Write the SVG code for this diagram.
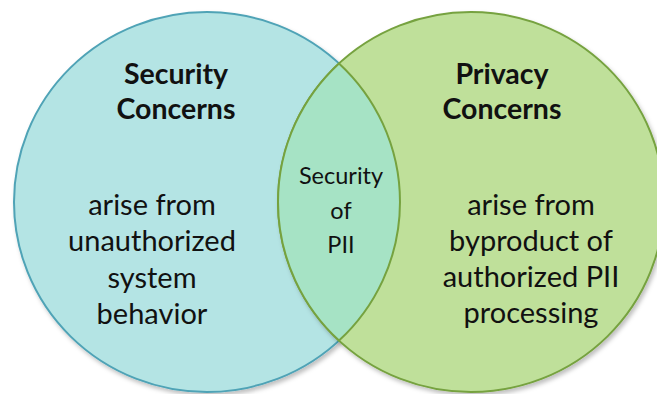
<svg xmlns="http://www.w3.org/2000/svg" width="657" height="394" viewBox="0 0 657 394">
<style>
  .t { font-family: Lato, "Open Sans", "Liberation Sans", sans-serif; fill: #111; text-anchor: middle; }
  .h { font-size: 28.5px; font-weight: bold; }
  .b { font-size: 29px; }
  .m { font-size: 23.5px; }
</style>
<defs>
  <filter id="sh" x="-10%" y="-10%" width="125%" height="125%">
    <feDropShadow dx="2" dy="3" stdDeviation="2" flood-color="#000" flood-opacity="0.25"/>
  </filter>
</defs>
<rect width="657" height="394" fill="#ffffff"/>
<g id="security">
  <ellipse cx="207" cy="202" rx="193" ry="190" fill="#b4e4e4" stroke="#4fa3b6" stroke-width="2" filter="url(#sh)"/>
  <text class="t h" x="176" y="84">Security</text>
  <text class="t h" x="176" y="119">Concerns</text>
  <text class="t b" x="152" y="215">arise from</text>
  <text class="t b" x="152" y="251">unauthorized</text>
  <text class="t b" x="152" y="288">system</text>
  <text class="t b" x="152" y="324">behavior</text>
</g>
<g id="privacy">
  <ellipse cx="471" cy="202" rx="193" ry="190" fill="#bfe09a" stroke="#76a23f" stroke-width="2" filter="url(#sh)"/>
  <text class="t h" x="502" y="84">Privacy</text>
  <text class="t h" x="502" y="119">Concerns</text>
  <text class="t b" x="531" y="215">arise from</text>
  <text class="t b" x="531" y="251">byproduct of</text>
  <text class="t b" x="531" y="287">authorized PII</text>
  <text class="t b" x="531" y="323">processing</text>
</g>
<g id="overlap">
  <path d="M339,63.4 A193,190 0 0,1 339,340.6 A193,190 0 0,1 339,63.4 Z" fill="#a6e3c5" stroke="#76a23f" stroke-width="2"/>
  <text class="t m" x="341" y="184">Security</text>
  <text class="t m" x="341" y="219">of</text>
  <text class="t m" x="341" y="253">PII</text>
</g>
<g id="connectors"></g>
</svg>
